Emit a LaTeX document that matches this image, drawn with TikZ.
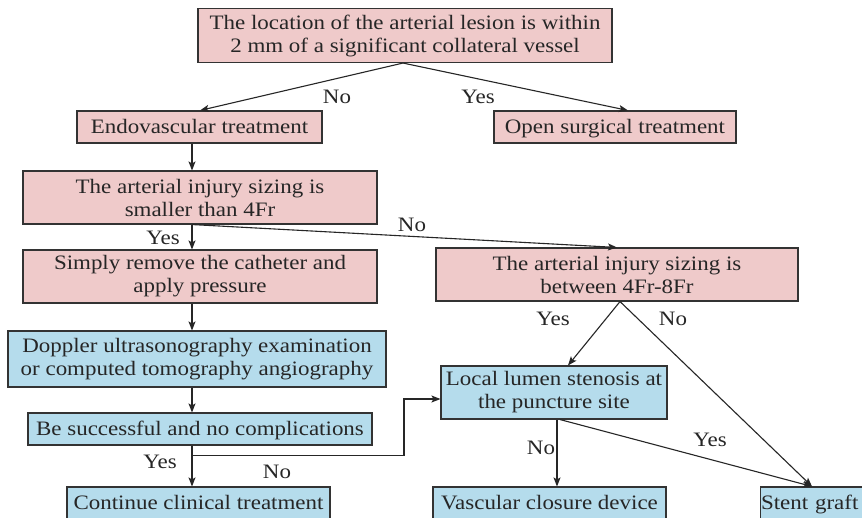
\documentclass[tikz,border=0pt]{standalone}
\usepackage{fontspec}
\setmainfont[FakeStretch=1.12]{Liberation Serif}
\usetikzlibrary{arrows.meta,calc}
\definecolor{pinkfill}{HTML}{EFCACA}
\definecolor{bluefill}{HTML}{B5DCEC}
\definecolor{edge}{HTML}{333333}
\newcommand\mystrut{\rule[-5pt]{0pt}{23pt}}
\begin{document}
\begin{tikzpicture}[x=1pt,y=-1pt,
  box/.style={draw=edge,line width=1.1pt,inner sep=0pt,align=center,
    font=\fontsize{20.5}{23}\selectfont,text=black!85},
  pinkbox/.style={box,fill=pinkfill},
  bluebox/.style={box,fill=bluefill},
  conn/.style={draw=black!85,line width=1.1pt,-{Stealth[length=9pt,width=7pt,inset=2pt]}},
  lbl/.style={font=\fontsize{20.5}{23}\selectfont,text=black!85,inner sep=0pt}]
\useasboundingbox (0,0) rectangle (862,517);
\clip (0,0) rectangle (862,517);
\fill[white] (0,0) rectangle (862,517);
\node[pinkbox,minimum width=414,minimum height=54] (top) at (405,35.5)
  {The location of the arterial lesion is within\\2 mm of a significant collateral vessel};
\node[pinkbox,minimum width=245,minimum height=32] (endo) at (199.5,127) {\mystrut Endovascular treatment};
\node[pinkbox,minimum width=242,minimum height=32] (open) at (615,127) {\mystrut Open surgical treatment};
\node[pinkbox,minimum width=354,minimum height=53] (size1) at (200,197.5)
  {The arterial injury sizing is\\smaller than 4Fr};
\node[pinkbox,minimum width=354,minimum height=53] (simply) at (200,276.5)
  {Simply remove the catheter and\\apply pressure};
\node[pinkbox,minimum width=362,minimum height=53] (size2) at (617,274.5)
  {The arterial injury sizing is\\between 4Fr-8Fr};
\node[bluebox,minimum width=378,minimum height=56] (doppler) at (197,359)
  {Doppler ultrasonography examination\\or computed tomography angiography};
\node[bluebox,minimum width=344,minimum height=32] (succ) at (200,429)
  {\mystrut Be successful and no complications};
\node[bluebox,minimum width=226,minimum height=53] (local) at (554,392.5)
  {Local lumen stenosis at\\the puncture site};
\node[bluebox,minimum width=263,minimum height=32] (cont) at (198.5,503)
  {\mystrut Continue clinical treatment};
\node[bluebox,minimum width=233,minimum height=32] (vcd) at (549.5,503)
  {\mystrut Vascular closure device};
\node[bluebox,minimum width=110,minimum height=32,anchor=west,align=left,text width=106] (stent) at (760,503)
  {\mystrut\hspace*{-1.5pt}Stent graft};
\coordinate (spine) at (192,0);
\coordinate (tb) at ($(top.south)+(-2,0)$);
\draw[conn] (tb) -- ($(endo.north)+(0.5,0)$);
\draw[conn] (tb) -- ($(open.north)+(13,0)$);
\draw[conn] (endo.south -| spine) -- (size1.north -| spine);
\coordinate (s1b) at (size1.south -| spine);
\draw[conn] (s1b) -- (simply.north -| spine);
\draw[conn] (s1b) -- (size2.north);
\draw[conn] (simply.south -| spine) -- (doppler.north -| spine);
\draw[conn] (doppler.south -| spine) -- (succ.north -| spine);
\draw[conn] (succ.south -| spine) -- (cont.north -| spine);
\coordinate (br) at ($(succ.south -| spine)+(0,10)$);
\coordinate (lw) at ($(local.west)+(0,6.5)$);
\draw[conn] (br) -- (br -| 404,0) -- (lw -| 404,0) -- (lw);
\coordinate (s2b) at ($(size2.south)+(3,0)$);
\draw[conn] (s2b) -- ($(local.north)+(14,0)$);
\draw[conn] (s2b) -- ($(stent.north west)+(52,0)$);
\draw[conn] ($(local.south)+(3,0)$) -- ($(vcd.north)+(7.5,0)$);
\draw[conn] ($(local.south)+(6,0)$) -- ($(stent.north west)+(52,0)$);
\node[lbl] (l1) at (337,97) {No};
\node[lbl] (l2) at (478,97) {Yes};
\node[lbl] (l3) at (163,238) {Yes};
\node[lbl] (l4) at (412,225) {No};
\node[lbl] (l5) at (553,319) {Yes};
\node[lbl] (l6) at (673,319) {No};
\node[lbl] (l7) at (160,462) {Yes};
\node[lbl] (l8) at (277,472) {No};
\node[lbl] (l9) at (541,448) {No};
\node[lbl] (l10) at (710,440) {Yes};
\end{tikzpicture}
\end{document}
